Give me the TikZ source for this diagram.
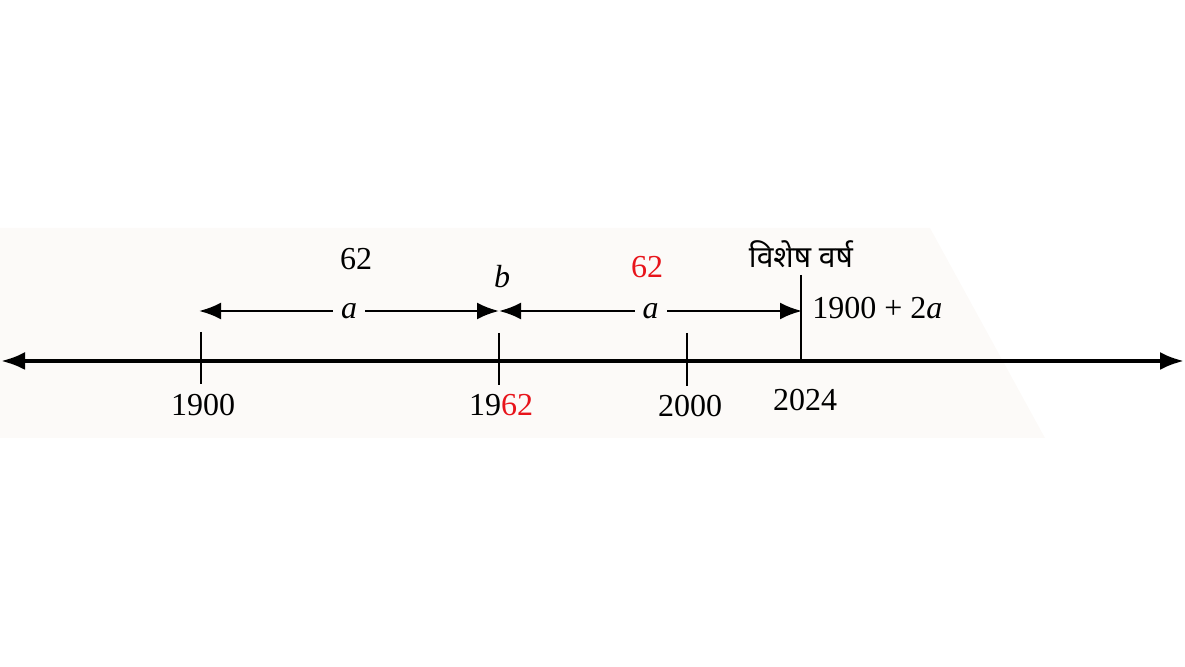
\documentclass[tikz,border=0pt]{standalone}
\usepackage{fontspec}
\setmainfont{Liberation Serif}
\newfontfamily\devfont[Script=Devanagari]{Noto Sans}
\usetikzlibrary{arrows.meta}
\definecolor{bgpanel}{HTML}{FCFAF8}
\definecolor{redtxt}{HTML}{E8141B}
\tikzset{
  axisline/.style={line width=1.9pt},
  tickline/.style={line width=1.4pt},
  dimline/.style={line width=1.3pt, {Latex[length=11pt,width=8.5pt]}-{Latex[length=11pt,width=8.5pt]}},
  lbl/.style={font=\fontsize{16}{19}\selectfont, inner sep=1pt},
  midlbl/.style={font=\fontsize{16}{19}\selectfont\itshape, fill=bgpanel, inner sep=4pt},
}
\begin{document}
\begin{tikzpicture}[x=0.5pt,y=-0.5pt]
\useasboundingbox (0,0) rectangle (1185,667);
\fill[bgpanel] (0,228) -- (930,228) -- (1045,438) -- (0,438) -- cycle;
% axis
\coordinate (L) at (1,361);
\coordinate (R) at (1184,361);
\draw[axisline, {Latex[length=12pt,width=9pt]}-{Latex[length=12pt,width=9pt]}] (L) -- (R);
% ticks
\coordinate (t1a) at (201,332); \coordinate (t1b) at (201,384);
\coordinate (t2a) at (499,333); \coordinate (t2b) at (499,385);
\coordinate (t3a) at (687,333); \coordinate (t3b) at (687,386);
\coordinate (t4a) at (801,275); \coordinate (t4b) at (801,361);
\draw[tickline] (t1a) -- (t1b);
\draw[tickline] (t2a) -- (t2b);
\draw[tickline] (t3a) -- (t3b);
\draw[tickline] (t4a) -- (t4b);
% year labels
\node[lbl] (y1900) at (203,405) {1900};
\node[lbl] (y1962) at (501,405) {19\textcolor{redtxt}{62}};
\node[lbl] (y2000) at (690,406) {2000};
\node[lbl] (y2024) at (805,400) {2024};
% dimension arrows
\coordinate (d1) at (199,311);
\coordinate (d2) at (499,311);
\coordinate (d3) at (802,311);
\draw[dimline] (d1) -- node[midlbl] (a1) {a} (d2);
\draw[dimline] (d2) -- node[midlbl, pos=0.5] (a2) {a} (d3);
% upper labels
\node[lbl] (n62a) at (356,259) {62};
\node[lbl, font=\fontsize{16}{19}\selectfont\itshape] (nb) at (502,277) {b};
\node[lbl, text=redtxt] (n62b) at (647,267) {62};
\node[lbl, font=\fontsize{15}{19}\devfont] (spec) at (801,254) {विशेष वर्ष};
\node[lbl, anchor=west] (expr) at (810,308) {1900 + 2\textit{a}};
\end{tikzpicture}
\end{document}
